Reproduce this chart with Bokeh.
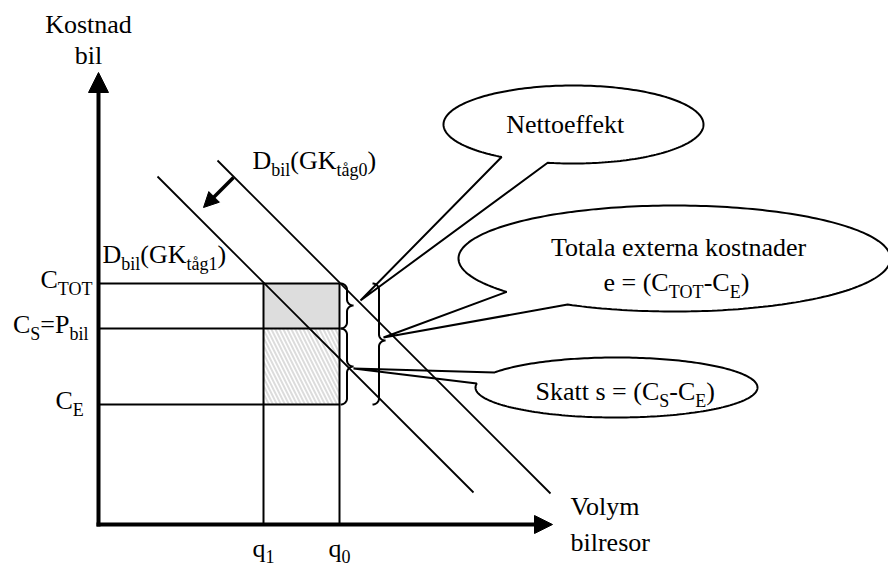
import numpy as np
from bokeh.plotting import figure
from bokeh.models import Range1d, ColumnDataSource, Arrow, NormalHead
from bokeh.core.properties import value
from bokeh.embed import file_html
from bokeh.resources import INLINE

# ---------------- diagram values (x = volym, y = kostnad; drawing units) ----------------
axis_origin_x = 98
axis_origin_y = 524
axis_y_top = 72
axis_x_end = 552
cost_levels = [283, 328, 404]          # C_TOT, C_S = P_bil, C_E
quantities = [263, 339]                # q1, q0
demand1_x = [157, 473]                 # D_bil(GK_tåg1)
demand1_y = [176, 492]
demand0_x = [217, 550]                 # D_bil(GK_tåg0)
demand0_y = [160, 493]
shift_x = [233, 203]                   # shift arrow D0 -> D1
shift_y = [177, 207]

FONT = "Liberation Serif"
N_SIZE, S_SIZE, SUB_DY = 26, 18, 7
BASE_FIX = 0.31   # renderer places alphabetic baseline lower; compensate (em)

p = figure(width=888, height=568, x_range=Range1d(0, 888), y_range=Range1d(568, 0),
           output_backend="svg", toolbar_location=None, min_border=0,
           x_axis_location=None, y_axis_location=None)
p.grid.visible = False
p.outline_line_color = None
p.background_fill_color = "white"
p.border_fill_color = "white"

# ---------------- shaded areas ----------------
q1, q0 = quantities
c_tot, c_s, c_e = cost_levels
p.quad(left=[q1], right=[q0], top=[c_tot], bottom=[c_s], fill_color="#dddddd", line_color=None)
p.quad(left=[q1], right=[q0], top=[c_s], bottom=[c_e], fill_color="white", line_color=None,
       hatch_pattern="left_diagonal_line", hatch_color="#dcdcdc", hatch_weight=2, hatch_scale=8)

# ---------------- callouts ----------------
def callout(cx, cy, rx, ry, b1, b2, tip):
    a = [np.arctan2((b[1] - cy) / ry, (b[0] - cx) / rx) for b in (b1, b2)]
    lo, hi = min(a), max(a)
    t = np.linspace(hi, lo + 2 * np.pi, 240)
    xs = [tip[0]] + list(cx + rx * np.cos(t)) + [tip[0]]
    ys = [tip[1]] + list(cy + ry * np.sin(t)) + [tip[1]]
    return xs, ys

callouts = [
    (573, 124, 130, 39, (500, 157), (548, 161), (360, 300)),
    (674, 258, 216, 53, (503, 292), (565, 305), (383, 337)),
    (616, 387, 141, 30, (495, 372), (475, 383), (353, 368)),
]
for c in callouts:
    xs, ys = callout(*c)
    p.patch(xs, ys, fill_color="white", line_color="black", line_width=2)

# ---------------- guide lines ----------------
for c in cost_levels:
    p.segment(x0=[axis_origin_x], y0=[c], x1=[q0], y1=[c], line_color="black", line_width=2)
for q in quantities:
    p.segment(x0=[q], y0=[c_tot], x1=[q], y1=[axis_origin_y], line_color="black", line_width=2)

# demand curves
p.line(demand1_x, demand1_y, line_color="black", line_width=1.8)
p.line(demand0_x, demand0_y, line_color="black", line_width=1.8)

# ---------------- braces ----------------
def brace(x0, y0, y1, ytip, w, rv=6):
    h = w / 2.0
    xs, ys = [], []
    t = np.linspace(-np.pi / 2, 0, 12)
    xs += list(x0 + h * np.cos(t)); ys += list(y0 + rv + rv * np.sin(t))
    t = np.linspace(np.pi, np.pi / 2, 12)
    xs += list(x0 + w + h * np.cos(t)); ys += list(ytip - rv + rv * np.sin(t))
    t = np.linspace(-np.pi / 2, -np.pi, 12)
    xs += list(x0 + w + h * np.cos(t)); ys += list(ytip + rv + rv * np.sin(t))
    t = np.linspace(0, np.pi / 2, 12)
    xs += list(x0 + h * np.cos(t)); ys += list(y1 - rv + rv * np.sin(t))
    return xs, ys

for b in [(340, c_tot, c_s, 305, 13), (340, c_s, c_e, 366, 13), (372, c_tot, c_e, 340, 13)]:
    xs, ys = brace(*b)
    p.line(xs, ys, line_color="black", line_width=2)

# ---------------- axes with arrow heads ----------------
p.segment(x0=[axis_origin_x], y0=[axis_origin_y + 2], x1=[axis_origin_x], y1=[axis_y_top + 16],
          line_color="black", line_width=4)
p.segment(x0=[axis_origin_x - 2], y0=[axis_origin_y], x1=[axis_x_end - 14], y1=[axis_origin_y],
          line_color="black", line_width=4)
p.add_layout(Arrow(end=NormalHead(size=20, fill_color="black", line_color="black", line_width=1),
                   x_start=axis_origin_x, y_start=axis_y_top + 30, x_end=axis_origin_x, y_end=axis_y_top,
                   line_color=None, line_width=0))
p.add_layout(Arrow(end=NormalHead(size=18, fill_color="black", line_color="black", line_width=1),
                   x_start=axis_x_end - 30, y_start=axis_origin_y, x_end=axis_x_end, y_end=axis_origin_y,
                   line_color=None, line_width=0))
# shift arrow
p.segment(x0=[shift_x[0]], y0=[shift_y[0]], x1=[shift_x[1] + 8], y1=[shift_y[1] - 8],
          line_color="black", line_width=3.5)
p.add_layout(Arrow(end=NormalHead(size=15, fill_color="black", line_color="black", line_width=1),
                   x_start=shift_x[0], y_start=shift_y[0], x_end=shift_x[1], y_end=shift_y[1],
                   line_color=None, line_width=0))

# ---------------- texts ----------------
W = {' ': 250, '(': 333, ')': 333, '-': 333, '=': 564,
     'C': 667, 'D': 722, 'E': 611, 'G': 722, 'K': 722, 'N': 722, 'O': 722, 'P': 556,
     'S': 556, 'T': 611, 'V': 722,
     'a': 444, 'b': 500, 'd': 500, 'e': 444, 'f': 333, 'g': 500, 'i': 278, 'k': 500,
     'l': 278, 'm': 778, 'n': 500, 'o': 500, 'q': 500, 'r': 333, 's': 389, 't': 278,
     'x': 500, 'y': 500, 'å': 444}

def width(s, size):
    return sum(W.get(ch, 500) for ch in s) * size / 1000.0

tx, ty, tt, ts = [], [], [], []

def rich(x, y, parts, anchor="left", sub_dy=SUB_DY):
    total = sum(width(s, S_SIZE if sub else N_SIZE) for s, sub in parts)
    if anchor == "right":
        x -= total
    elif anchor == "center":
        x -= total / 2.0
    for s, sub in parts:
        size = S_SIZE if sub else N_SIZE
        tx.append(x)
        ty.append(y + (sub_dy if sub else 0) - BASE_FIX * size)
        tt.append(s); ts.append(f"{size}px")
        x += width(s, size)

rich(88, 32, [("Kostnad", 0)], "center")
rich(88, 63, [("bil", 0)], "center")
rich(570, 514, [("Volym", 0)])
rich(570, 550, [("bilresor", 0)])
rich(40, 287, [("C", 0), ("TOT", 1)])
rich(88, 332, [("C", 0), ("S", 1), ("=P", 0), ("bil", 1)], "right")
rich(55, 408, [("C", 0), ("E", 1)])
rich(102, 262, [("D", 0), ("bil", 1), ("(GK", 0), ("tåg1", 1), (")", 0)])
rich(252, 168, [("D", 0), ("bil", 1), ("(GK", 0), ("tåg0", 1), (")", 0)])
rich(252, 556, [("q", 0), ("1", 1)], sub_dy=6)
rich(328, 556, [("q", 0), ("0", 1)], sub_dy=6)
rich(565, 132, [("Nettoeffekt", 0)], "center")
rich(679, 255, [("Totala externa kostnader", 0)], "center")
rich(603, 290, [("e = (C", 0), ("TOT", 1), ("-C", 0), ("E", 1), (")", 0)])
rich(535, 399, [("Skatt s = (C", 0), ("S", 1), ("-C", 0), ("E", 1), (")", 0)])

src = ColumnDataSource(dict(x=tx, y=ty, text=tt, size=ts))
p.text(x="x", y="y", text="text", source=src, text_font=value(FONT), text_font_size="size",
       text_color="black", text_align="left", text_baseline="alphabetic")

open("out.html", "w").write(file_html(p, INLINE))
